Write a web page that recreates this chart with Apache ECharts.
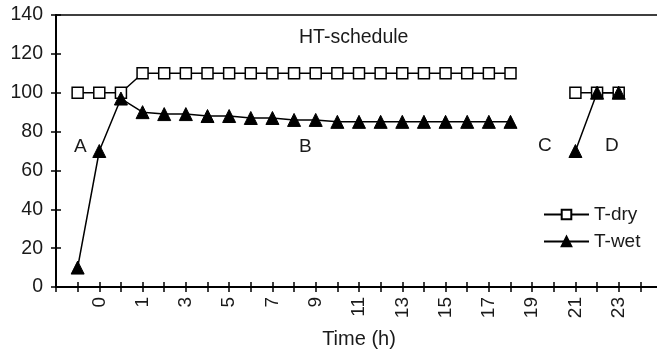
<!DOCTYPE html>
<html>
<head>
<meta charset="UTF-8">
<title>HT-schedule</title>
<script src="https://cdn.jsdelivr.net/npm/echarts@6/dist/echarts.min.js"></script>
<style>
  html, body { margin: 0; padding: 0; background: #fff; }
  #chart { width: 657px; height: 352px; }
</style>
</head>
<body>
<div id="chart"></div>
<script>
// categories (first slot empty = y-axis position, last empty slot only stretches the axis line)
var hours = ['', '-0.5', '0', '0.5', '1', '2', '3', '4', '5', '6', '7', '8', '9', '10', '11', '12',
  '13', '14', '15', '16', '17', '18', '19', '20', '21', '22', '23', '24', ''];
var tDry = [null, 100, 100, 100, 110, 110, 110, 110, 110, 110, 110, 110, 110, 110, 110, 110,
  110, 110, 110, 110, 110, 110, null, null, 100, 100, 100, null, null];
var tWet = [null, 10, 70, 97, 90, 89, 89, 88, 88, 87, 87, 86, 86, 85, 85, 85,
  85, 85, 85, 85, 85, 85, null, null, 70, 100, 100, null, null];
var yTicks = { min: 0, max: 140, step: 20 };

var txt = '#1a1a1a';
var font = 'Liberation Sans, Arial, sans-serif';
var chart = echarts.init(document.getElementById('chart'));

var option = {
  animation: false,
  backgroundColor: '#fff',
  grid: {
    left: 56, top: 15, bottom: 65, right: -5, outerBoundsMode: 'none',
    show: true, borderColor: '#000', borderWidth: 1.5
  },
  legend: {
    orient: 'vertical', left: 538, top: 200,
    itemWidth: 45, itemHeight: 12, itemGap: 8,
    textStyle: { color: txt, fontSize: 19, fontFamily: font },
    data: ['T-dry', 'T-wet']
  },
  xAxis: [{
    type: 'category', data: hours, boundaryGap: false,
    name: 'Time (h)', nameLocation: 'middle', nameGap: 42,
    nameTextStyle: { color: txt, fontSize: 20, fontFamily: font },
    axisLine: { lineStyle: { color: '#000', width: 2 } },
    axisTick: { interval: 0, length: 5, lineStyle: { color: '#000', width: 1.5 } },
    axisLabel: { interval: 1, rotate: 90, margin: 10, color: txt, fontSize: 19, fontFamily: font },
    splitLine: { show: false }
  }, {
    type: 'category', data: hours, boundaryGap: false, position: 'bottom',
    axisLine: { show: false },
    axisTick: { interval: 0, inside: true, length: 5, lineStyle: { color: '#000', width: 1.5 } },
    axisLabel: { show: false }, splitLine: { show: false }
  }],
  yAxis: [{
    type: 'value', min: yTicks.min, max: yTicks.max, interval: yTicks.step,
    axisLine: { show: true, lineStyle: { color: '#000', width: 2 } },
    axisTick: { show: true, length: 5, lineStyle: { color: '#000', width: 1.5 } },
    axisLabel: { margin: 13, color: txt, fontSize: 19.5, fontFamily: font },
    splitLine: { show: false }
  }, {
    type: 'value', min: yTicks.min, max: yTicks.max, interval: yTicks.step, position: 'left',
    axisLine: { show: false },
    axisTick: { show: true, inside: true, length: 5, lineStyle: { color: '#000', width: 1.5 } },
    axisLabel: { show: false }, splitLine: { show: false }
  }],
  graphic: [
    { type: 'text', left: 299, top: 28, style: { text: 'HT-schedule', fill: txt, font: '19.5px ' + font } },
    { type: 'text', left: 74, top: 137, style: { text: 'A', fill: txt, font: '19px ' + font } },
    { type: 'text', left: 299, top: 137, style: { text: 'B', fill: txt, font: '19px ' + font } },
    { type: 'text', left: 538, top: 136, style: { text: 'C', fill: txt, font: '19px ' + font } },
    { type: 'text', left: 605, top: 136, style: { text: 'D', fill: txt, font: '19px ' + font } }
  ],
  series: [{
    name: 'T-dry', type: 'line', data: tDry, xAxisIndex: 0, yAxisIndex: 0,
    symbol: 'rect', symbolSize: 11, showAllSymbol: true,
    lineStyle: { color: '#000', width: 1.5 },
    itemStyle: { color: '#fff', borderColor: '#000', borderWidth: 1.5 }
  }, {
    name: 'T-wet', type: 'line', data: tWet, xAxisIndex: 0, yAxisIndex: 0,
    symbol: 'triangle', symbolSize: 13, showAllSymbol: true,
    lineStyle: { color: '#000', width: 1.5 },
    itemStyle: { color: '#000', borderColor: '#000', borderWidth: 1 }
  }]
};
chart.setOption(option);
</script>
</body>
</html>
